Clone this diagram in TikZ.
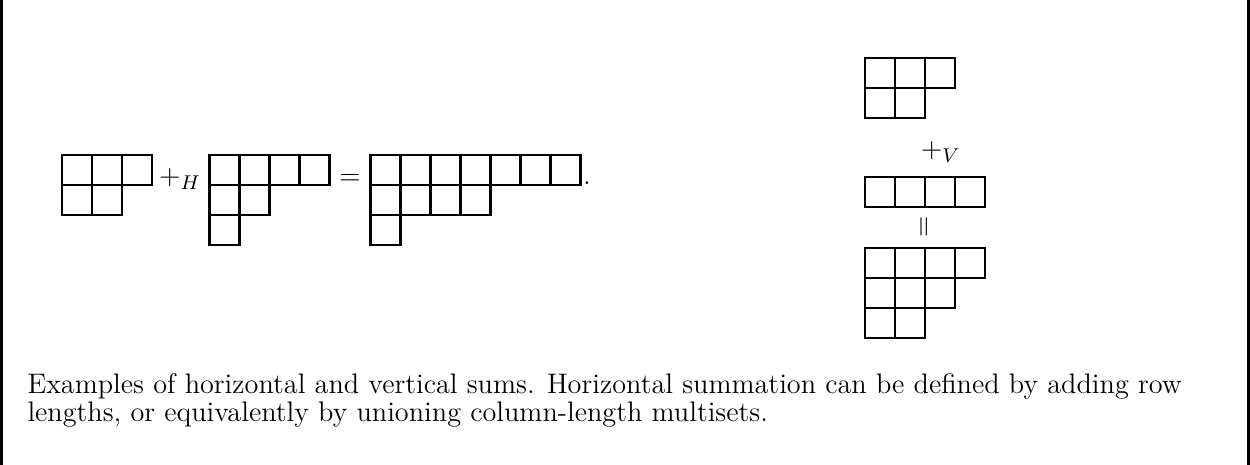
\documentclass[tikz,border=0pt]{standalone}
\usepackage{amsmath,amssymb}
\usepackage{tikz}
\usetikzlibrary{positioning}

\tikzset{
  every node/.style={font=\fontsize{11.3}{11.2}\selectfont},
  cellbox/.style={draw=black, line width=1.1pt},
  sumlabel/.style={inner sep=0pt, anchor=base},
  captionline/.style={inner sep=0pt, anchor=base west},
}

% Young diagram in English notation, given by its row lengths
\newcommand{\youngrows}[1]{%
  \foreach \len [count=\r] in {#1} {
    \foreach \c in {1,...,\len} {
      \draw[cellbox] ({30*(\c-1)},{30*(\r-1)}) rectangle ++(30,30);
    }
  }%
}

\begin{document}
\begin{tikzpicture}[x=0.4pt,y=-0.4pt]
    \useasboundingbox (0,0) rectangle (1250,465);
    % sides of the frame
    \draw[line width=1.3pt] (1.5,0) -- (1.5,465);
    \draw[line width=1.3pt] (1248.5,0) -- (1248.5,465);

    % horizontal sum
    \begin{scope}[shift={(62,155)}]
        \youngrows{3,2}
    \end{scope}
    \node[sumlabel] (plusH) at (180,185) {$+_{H}$};
    \begin{scope}[shift={(209.5,155)}]
        \youngrows{4,2,1}
    \end{scope}
    \node[sumlabel] (eqH) at (350,185) {$=$};
    \begin{scope}[shift={(370.5,155)}]
        \youngrows{7,4,1}
    \end{scope}
    \node[sumlabel, anchor=base west] (stop) at (582.5,185) {.};

    % vertical sum
    \begin{scope}[shift={(865,58)}]
        \youngrows{3,2}
    \end{scope}
    \node[sumlabel] (plusV) at (941,158) {$+_{V}$};
    \begin{scope}[shift={(865,177)}]
        \youngrows{4}
    \end{scope}
    \node[inner sep=0pt, rotate=90] (eqV) at (925.5,227) {$=$};
    \begin{scope}[shift={(865,248)}]
        \youngrows{4,3,2}
    \end{scope}

    \node[captionline] (caption1) at (27,393)
        {Examples of horizontal and vertical sums. Horizontal summation can be defined by adding row};
    \node[captionline] (caption2) at (27,421)
        {lengths, or equivalently by unioning column-length multisets.};
\end{tikzpicture}
\end{document}
